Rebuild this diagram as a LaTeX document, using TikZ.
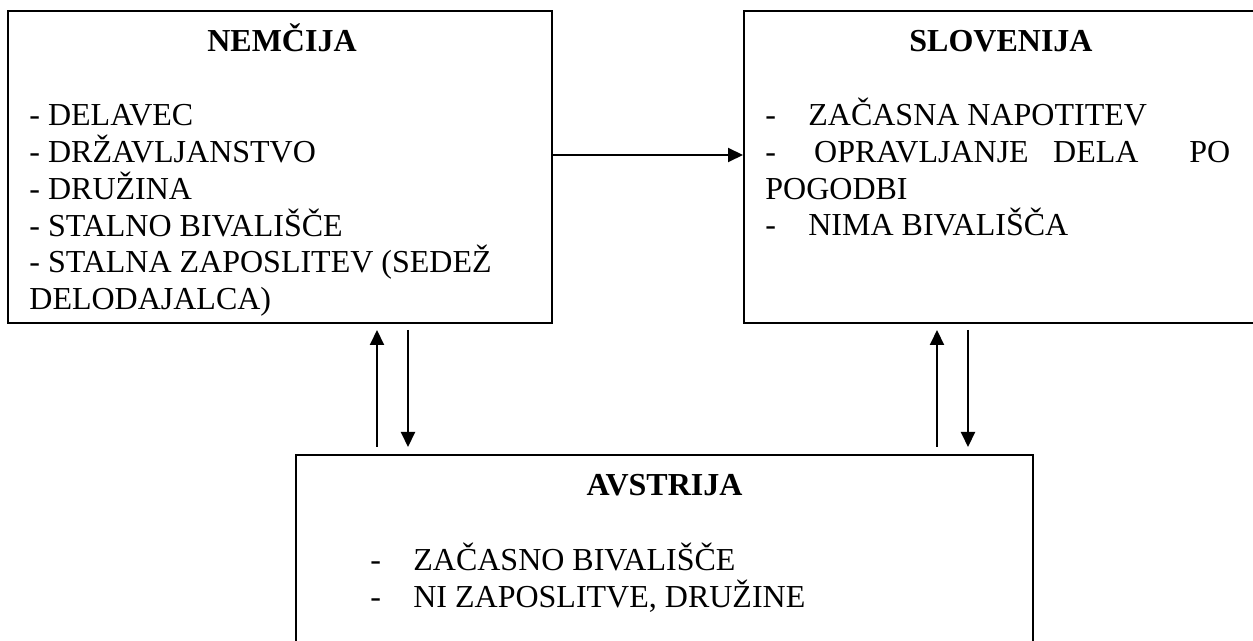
\documentclass[tikz,border=0pt]{standalone}
\usepackage{fontspec}
\setmainfont{Liberation Serif}
\usetikzlibrary{arrows.meta}

\tikzset{
  land/.style={draw, line width=1pt, inner sep=0pt},
  naslov/.style={font=\fontsize{16}{18}\selectfont\bfseries, anchor=base, inner sep=0pt},
  alineja/.style={font=\fontsize{16}{18}\selectfont, anchor=base west, inner sep=0pt},
  puscica/.style={line width=1pt, -{Triangle[length=7.5pt, width=7pt]}}
}

\begin{document}
\begin{tikzpicture}[x=0.5pt, y=-0.5pt]
\useasboundingbox (0,0) rectangle (1253,641);
% boxes
\node[land, minimum width=272pt, minimum height=156pt] (nem) at (280,167){};
\node[land, minimum width=257pt, minimum height=156pt] (slo) at (1001,167){};
\node[land, minimum width=368.5pt, minimum height=110pt] (avs) at (664.5,565){};
% titles
\node[naslov] (nemT) at (282,52){NEMČIJA};
\node[naslov] (sloT) at (1001,52){SLOVENIJA};
\node[naslov] (avsT) at (664.5,495){AVSTRIJA};
% NEMCIJA
\foreach \t [count=\i] in {- DELAVEC, - DRŽAVLJANSTVO, - DRUŽINA, - STALNO BIVALIŠČE,
  - STALNA ZAPOSLITEV (SEDEŽ, DELODAJALCA)}
  \node[alineja] (nem\i) at (29,89.3+36.7*\i){\t};
% SLOVENIJA
\node[alineja] (slo1) at (765,126){\makebox[21.5pt][l]{-}ZAČASNA NAPOTITEV};
\node[alineja] (slo2) at (765,163){\hbox to 232.5pt{-\hspace{\stretch{39}}OPRAVLJANJE\hspace{\stretch{25}}DELA\hspace{\stretch{52}}PO}};
\node[alineja] (slo3) at (765,200){POGODBI};
\node[alineja] (slo4) at (765,236){\makebox[21.5pt][l]{-}NIMA BIVALIŠČA};
% AVSTRIJA
\node[alineja] (avs1) at (370,570){\makebox[21.5pt][l]{-}ZAČASNO BIVALIŠČE};
\node[alineja] (avs2) at (370,607){\makebox[21.5pt][l]{-}NI ZAPOSLITVE, DRUŽINE};
% arrows
\draw[puscica] (nem.east |- 0,155) -- (slo.west |- 0,155);
\draw[puscica, shorten <=3.5pt, shorten >=3pt] (avs.north -| 377,0) -- (nem.south -| 377,0);
\draw[puscica, shorten <=3pt, shorten >=3.5pt] (nem.south -| 408,0) -- (avs.north -| 408,0);
\draw[puscica, shorten <=3.5pt, shorten >=3pt] (avs.north -| 937,0) -- (slo.south -| 937,0);
\draw[puscica, shorten <=3pt, shorten >=3.5pt] (slo.south -| 968,0) -- (avs.north -| 968,0);
\end{tikzpicture}
\end{document}
